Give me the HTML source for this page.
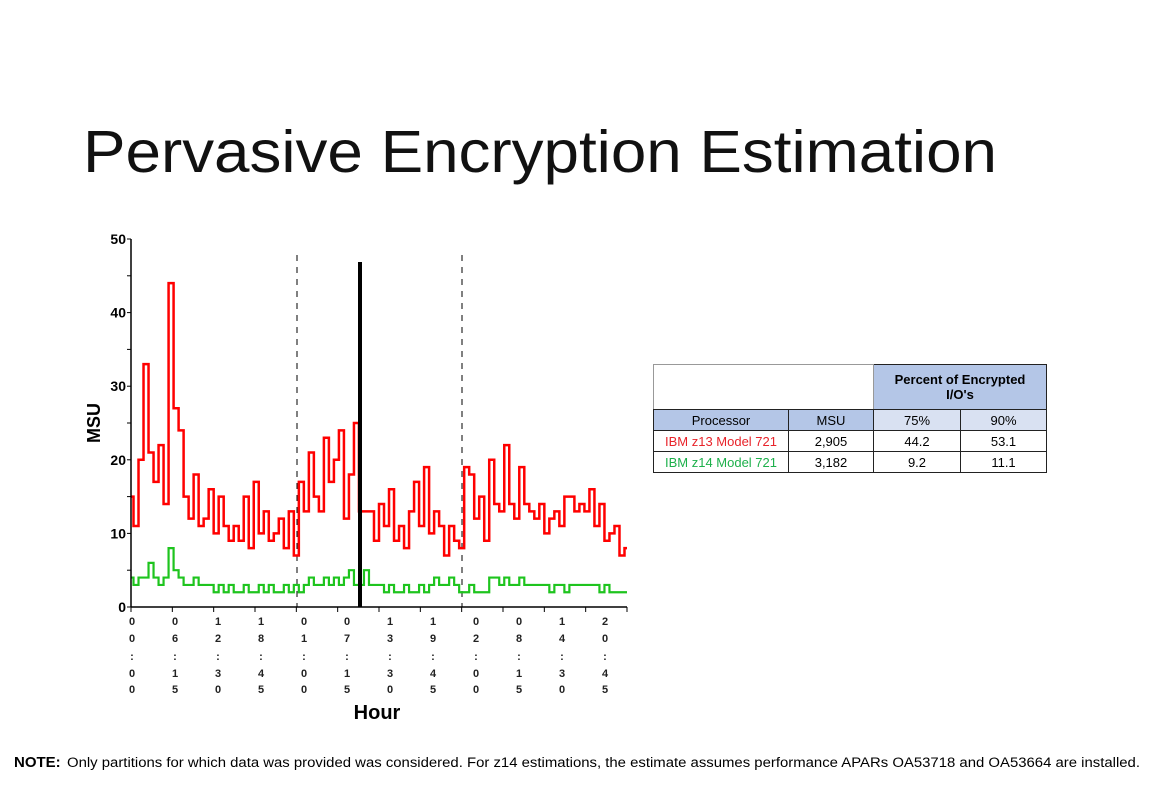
<!DOCTYPE html>
<html><head><meta charset="utf-8"><style>
body{margin:0;background:#fff;}
#wrap{position:relative;width:1153px;height:787px;overflow:hidden;font-family:"Liberation Sans",sans-serif;}
table{position:absolute;left:653px;top:364px;border-collapse:collapse;font-family:"Liberation Sans",sans-serif;font-size:13px;}
td{border:1px solid #222;text-align:center;padding:0;height:20px;}
</style></head><body>
<div id="wrap">
<svg width="1153" height="787" style="position:absolute;left:0;top:0">
<text x="83" y="172" font-size="59" fill="#111" textLength="914" lengthAdjust="spacingAndGlyphs" font-family="Liberation Sans, sans-serif">Pervasive Encryption Estimation</text>
<g id="chart"></g>
<text x="14" y="767" font-size="15" font-weight="bold" fill="#000">NOTE:</text>
<text x="67" y="767" font-size="13.5" fill="#000" textLength="1073" lengthAdjust="spacingAndGlyphs">Only partitions for which data was provided was considered.  For z14 estimations, the estimate assumes performance APARs OA53718 and OA53664 are installed.</text>
</svg>
<table>
<tr style="height:45px"><td colspan="2" style="width:219px;border-color:#999;border-bottom-color:#222"></td><td colspan="2" style="background:#b4c6e7;font-weight:bold;width:172px">Percent of Encrypted<br>I/O's</td></tr>
<tr><td style="background:#b4c6e7;width:134px">Processor</td><td style="background:#b4c6e7;width:84px">MSU</td><td style="background:#d9e1f2;width:86px">75%</td><td style="background:#d9e1f2;width:85px">90%</td></tr>
<tr><td style="color:#e8232a">IBM z13 Model 721</td><td>2,905</td><td>44.2</td><td>53.1</td></tr>
<tr><td style="color:#1db04b">IBM z14 Model 721</td><td>3,182</td><td>9.2</td><td>11.1</td></tr>
</table>
</div>
<script>
const redValues=[15,11,20,33,21,17,22,14,44,27,24,15,12,18,11,12,16,10,15,11,9,11,9,15,8,17,10,13,9,10,12,8,13,7,17,13,21,15,13,23,17,20,24,12,18,25,13,13,13,9,14,11,16,9,11,8,13,17,11,19,10,13,11,7,11,9,8,19,18,12,15,9,20,14,13,22,14,12,19,14,13,12,14,10,12,13,11,15,15,13,14,13,16,11,14,9,10,11,7,8];
const greenValues=[4,3,4,4,6,4,3,4,8,5,4,3,3,4,3,3,3,2,3,2,3,2,2,3,2,2,3,2,3,2,2,3,2,3,2,3,4,3,3,4,3,4,3,4,5,3,3,5,3,3,3,2,3,2,2,3,2,2,3,2,3,4,3,3,4,3,2,2,3,2,2,2,4,4,3,4,3,3,4,3,3,3,3,3,2,3,3,2,3,3,3,3,3,3,2,3,2,2,2,2];
const yTicks=[0,10,20,30,40,50];
const xLabels=["00:00","06:15","12:30","18:45","01:00","07:15","13:30","19:45","02:00","08:15","14:30","20:45"];
const NS="http://www.w3.org/2000/svg";
const g=document.getElementById('chart');
const X0=131,X1=627,Y0=607,Y1=239;
const ys=v=>Y0-(v/50)*(Y0-Y1);
const xs=i=>X0+i*(X1-X0)/(redValues.length-1);
function mk(t,a,p){const e=document.createElementNS(NS,t);for(const k in a)e.setAttribute(k,a[k]);(p||g).appendChild(e);return e;}
let e=mk('line',{x1:297,y1:255,x2:297,y2:607,stroke:'#000','stroke-dasharray':'6,6','stroke-width':1});

e=mk('line',{x1:462,y1:255,x2:462,y2:607,stroke:'#000','stroke-dasharray':'6,6','stroke-width':1});

function step(vals){let d='';vals.forEach((v,i)=>{const x=xs(i),y=ys(v);if(i==0)d+='M'+x+','+y;else{const px=(xs(i-1)+x)/2;d+='L'+px+','+ys(vals[i-1])+'L'+px+','+y+'L'+x+','+y;}});return d;}
e=mk('path',{d:step(greenValues),fill:'none',stroke:'#1ec41e','stroke-width':2.2});

e=mk('path',{d:step(redValues),fill:'none',stroke:'#ff0000','stroke-width':2.5,'stroke-linejoin':'miter'});

e=mk('line',{x1:360,y1:262,x2:360,y2:607,stroke:'#000','stroke-width':4});

e=mk('line',{x1:X0,y1:Y1,x2:X0,y2:Y0,stroke:'#000','stroke-width':1.5});

e=mk('line',{x1:X0,y1:Y0,x2:X1,y2:Y0,stroke:'#000','stroke-width':1.5});

for(let v=0;v<=50;v+=5){const t=mk('line',{x1:X0-4,y1:ys(v),x2:X0,y2:ys(v),stroke:'#000'});
}
yTicks.forEach(v=>{const t=mk('text',{x:X0-5,y:ys(v)+5,'text-anchor':'end','font-size':14,'font-weight':'bold',fill:'#000'});t.textContent=v;
});
for(let i=0;i<=12;i++){const x=X0+i*(X1-X0)/12;const t=mk('line',{x1:x,y1:Y0,x2:x,y2:Y0+5,stroke:'#000'});
}
const rowsY=[625,642,660,677,693];
xLabels.forEach((lab,i)=>{const x=X0+1+i*43;[...lab].forEach((c,j)=>{const t=mk('text',{x:x,y:rowsY[j],'text-anchor':'middle','font-size':11,'font-weight':'bold',fill:'#222'});t.textContent=c;
});});
e=mk('text',{x:377,y:719,'text-anchor':'middle','font-size':20,'font-weight':'bold',fill:'#000'});e.textContent='Hour';

e=mk('text',{x:0,y:0,'text-anchor':'middle','font-size':18,'font-weight':'bold',fill:'#000',transform:'translate(100,423) rotate(-90)'});e.textContent='MSU';

</script>
</body></html>
